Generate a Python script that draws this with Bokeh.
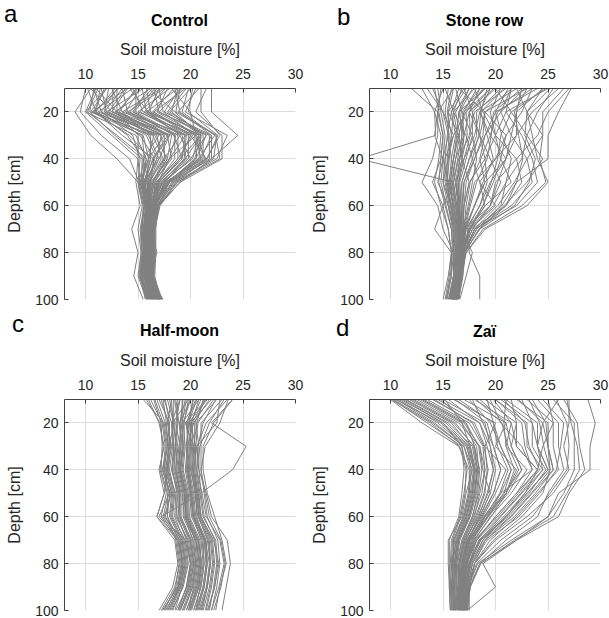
from bokeh.plotting import figure
from bokeh.layouts import column, row
from bokeh.models import Range1d, FixedTicker, Div
from bokeh.embed import file_html
from bokeh.resources import INLINE

depths = [10, 20, 30, 40, 50, 60, 70, 80, 90, 100]
x_ticks = [10, 15, 20, 25, 30]
y_ticks = [20, 40, 60, 80, 100]
titles = ["Control", "Stone row", "Half-moon", "Zaï"]
letters = ["a", "b", "c", "d"]

control = [
    [10.5, 9.0, 10.5, 13.0, 15.0, 15.4, 15.0, 15.3, 15.0, 15.8],
    [11.0, 10.0, 12.5, 15.0, 15.2, 15.8, 15.5, 15.6, 15.4, 16.0],
    [10.2, 11.0, 14.0, 15.5, 15.5, 16.0, 15.6, 15.8, 15.8, 16.3],
    [12.0, 10.5, 15.5, 16.0, 15.2, 15.8, 15.8, 15.9, 15.5, 16.5],
    [11.5, 12.0, 16.5, 16.0, 15.8, 16.2, 15.7, 15.6, 15.9, 16.2],
    [13.0, 11.5, 17.0, 15.5, 16.0, 16.0, 16.0, 16.1, 16.0, 16.8],
    [14.0, 12.5, 18.0, 16.5, 16.2, 16.1, 15.8, 15.9, 15.6, 16.4],
    [12.5, 13.5, 16.0, 17.0, 15.6, 15.6, 15.2, 15.4, 15.2, 16.0],
    [15.0, 13.0, 19.0, 17.5, 16.4, 16.0, 15.9, 16.0, 15.8, 16.6],
    [16.0, 14.5, 18.5, 18.5, 16.8, 16.3, 16.1, 16.2, 16.0, 17.0],
    [14.5, 15.5, 20.0, 19.0, 17.0, 16.2, 16.0, 16.0, 16.1, 16.8],
    [17.0, 16.0, 21.0, 19.5, 17.2, 16.4, 16.2, 16.3, 16.2, 17.2],
    [18.0, 15.0, 20.5, 18.0, 16.6, 16.0, 15.9, 15.8, 15.6, 16.5],
    [16.5, 17.0, 21.5, 20.5, 17.8, 16.6, 16.3, 16.4, 16.3, 17.3],
    [19.0, 17.5, 22.0, 21.0, 18.2, 16.8, 16.4, 16.5, 16.3, 17.0],
    [20.0, 18.0, 21.5, 20.0, 17.5, 16.5, 16.2, 16.1, 16.0, 16.7],
    [18.5, 19.0, 22.0, 22.0, 19.0, 17.0, 16.5, 16.4, 16.2, 16.9],
    [20.5, 19.5, 23.5, 22.5, 18.5, 16.8, 16.2, 16.2, 16.1, 16.6],
    [22.0, 22.0, 24.5, 22.0, 18.0, 16.6, 16.3, 16.3, 16.1, 16.8],
    [21.5, 20.5, 23.0, 23.0, 19.0, 17.0, 16.4, 16.5, 16.2, 17.0],
    [17.5, 14.0, 18.0, 17.0, 16.0, 15.8, 15.6, 15.5, 15.3, 16.0],
    [15.5, 12.0, 17.5, 16.0, 15.4, 15.6, 15.3, 15.3, 15.1, 15.9],
    [13.5, 14.0, 19.5, 18.0, 16.2, 16.0, 15.8, 15.8, 15.6, 16.3],
    [11.0, 13.0, 15.0, 15.0, 14.8, 15.2, 14.4, 15.0, 14.6, 15.5],
    [19.5, 16.5, 20.0, 21.5, 17.8, 16.4, 16.2, 16.8, 16.2, 17.2],
    [12.8, 11.0, 13.5, 16.5, 15.5, 15.7, 15.6, 15.5, 15.3, 16.1],
    [16.0, 18.5, 21.0, 19.0, 17.0, 16.3, 16.0, 16.0, 15.9, 16.6],
    [10.5, 12.5, 17.5, 17.5, 16.0, 15.9, 15.6, 15.7, 15.4, 16.2],
    [14.2, 16.0, 19.0, 20.0, 17.4, 16.3, 16.1, 16.2, 16.1, 16.9],
    [18.2, 20.0, 20.5, 21.0, 17.6, 16.5, 16.1, 16.0, 15.9, 17.4],
    [11.2, 10.2, 13.0, 15.8, 15.3, 15.9, 15.7, 15.7, 15.6, 16.1],
    [12.2, 11.8, 15.8, 16.8, 15.7, 16.0, 15.8, 15.9, 15.7, 16.4],
    [13.8, 12.2, 16.8, 17.2, 16.1, 16.1, 15.9, 16.0, 15.8, 16.5],
    [15.2, 13.8, 17.8, 18.2, 16.5, 16.2, 16.0, 16.1, 15.9, 16.7],
    [16.8, 15.2, 19.5, 19.2, 16.9, 16.3, 16.1, 16.2, 16.0, 16.9],
    [17.8, 16.8, 20.8, 20.2, 17.3, 16.5, 16.2, 16.3, 16.1, 17.1],
    [18.8, 18.2, 21.2, 21.2, 17.6, 16.6, 16.3, 16.3, 16.2, 17.0],
    [19.8, 19.2, 22.3, 20.8, 18.0, 16.7, 16.3, 16.4, 16.2, 17.2],
    [10.8, 11.5, 14.5, 15.2, 15.0, 15.5, 15.4, 15.5, 15.3, 15.9],
    [13.2, 10.8, 16.2, 16.2, 15.6, 15.8, 15.6, 15.7, 15.5, 16.2],
    [14.8, 14.8, 18.8, 18.8, 16.7, 16.2, 16.0, 16.1, 16.0, 16.8],
    [17.2, 13.5, 19.8, 19.8, 17.1, 16.4, 16.1, 16.2, 16.0, 16.6],
    [16.2, 12.8, 18.2, 17.8, 16.3, 16.0, 15.8, 15.9, 15.7, 16.4],
    [19.2, 17.0, 21.8, 21.8, 18.4, 16.9, 16.4, 16.5, 16.3, 17.1],
    [20.8, 18.8, 22.5, 22.2, 18.8, 16.9, 16.3, 16.4, 16.2, 16.9],
    [12.0, 10.0, 14.8, 15.8, 15.4, 15.9, 15.5, 15.6, 15.4, 16.0],
    [15.8, 16.2, 20.2, 18.8, 16.8, 16.3, 16.0, 16.1, 15.9, 16.6],
    [18.8, 15.8, 21.0, 20.8, 17.7, 16.5, 16.2, 16.3, 16.1, 17.0],
    [14.5, 11.2, 17.2, 16.8, 15.9, 15.9, 15.7, 15.8, 15.6, 16.3],
    [21.0, 21.0, 22.8, 21.5, 18.3, 16.8, 16.4, 16.4, 16.2, 17.1],
    [10.0, 9.5, 11.5, 14.2, 15.1, 15.6, 15.3, 15.4, 15.2, 15.7],
    [11.8, 10.8, 14.2, 16.2, 15.6, 16.0, 15.9, 15.9, 15.8, 16.4],
    [13.5, 11.8, 15.2, 16.6, 15.9, 16.3, 16.2, 16.3, 16.1, 16.8],
    [14.8, 13.2, 17.2, 17.6, 16.6, 16.5, 16.4, 16.5, 16.3, 17.0],
    [16.4, 14.2, 18.6, 18.0, 16.9, 16.6, 16.5, 16.6, 16.4, 17.2],
    [17.6, 15.6, 19.2, 19.6, 17.5, 16.7, 16.6, 16.6, 16.5, 17.3],
    [18.4, 16.4, 20.6, 21.4, 18.0, 16.9, 16.7, 16.7, 16.6, 17.1],
    [19.6, 17.8, 21.0, 20.4, 17.9, 16.6, 16.5, 16.5, 16.4, 16.9],
    [20.2, 19.8, 22.6, 21.6, 18.6, 17.0, 16.6, 16.6, 16.5, 17.2],
    [12.6, 12.6, 16.6, 17.8, 16.4, 16.2, 16.0, 16.0, 15.9, 16.5],
    [15.4, 15.8, 19.6, 19.4, 17.3, 16.4, 16.3, 16.3, 16.2, 16.8],
    [17.0, 17.4, 20.4, 20.6, 17.8, 16.7, 16.5, 16.6, 16.4, 17.0],
    [11.4, 11.0, 15.4, 15.6, 15.1, 15.6, 15.4, 15.5, 15.2, 15.8],
    [13.0, 13.0, 17.8, 16.4, 15.7, 15.9, 15.7, 15.8, 15.6, 16.2],
    [16.6, 14.6, 18.4, 19.2, 17.0, 16.5, 16.3, 16.4, 16.2, 16.9],
    [14.0, 10.6, 16.4, 17.4, 16.1, 16.1, 15.9, 16.0, 15.8, 16.4],
    [19.0, 18.6, 22.4, 22.8, 18.7, 17.1, 16.6, 16.6, 16.4, 17.0],
    [10.8, 10.4, 12.8, 15.4, 15.3, 15.7, 15.5, 15.6, 15.4, 15.9],
]

stone_row = [
    [12.0, 14.5, 14.5, 14.0, 13.0, 14.5, 15.0, 16.0, 16.0, 15.5],
    [15.0, 14.2, 14.3, 7.0, 16.0, 15.0, 15.5, 15.8, 15.8, 15.4],
    [16.0, 14.5, 15.0, 14.8, 14.0, 15.0, 14.2, 15.8, 15.5, 15.0],
    [17.0, 15.5, 15.5, 15.0, 14.5, 15.5, 16.0, 16.2, 16.0, 15.8],
    [18.0, 16.0, 15.8, 15.5, 15.0, 15.8, 16.2, 16.3, 16.2, 15.9],
    [14.0, 15.0, 16.0, 15.2, 15.2, 15.6, 16.0, 16.0, 16.0, 15.6],
    [19.0, 17.0, 16.5, 16.0, 15.5, 16.0, 16.3, 16.5, 16.4, 16.0],
    [20.0, 17.5, 17.0, 16.2, 15.8, 16.2, 16.5, 16.6, 16.5, 16.2],
    [21.0, 18.0, 17.5, 16.5, 16.0, 16.3, 16.4, 16.4, 16.3, 15.8],
    [22.0, 18.5, 18.0, 17.0, 16.2, 16.5, 16.6, 16.8, 16.6, 16.1],
    [17.5, 16.5, 17.0, 16.8, 16.5, 16.4, 16.5, 16.5, 16.4, 15.9],
    [23.0, 19.0, 18.5, 17.5, 16.8, 16.6, 16.7, 16.7, 16.5, 16.3],
    [24.0, 20.0, 19.0, 18.0, 17.0, 16.8, 16.8, 16.9, 16.7, 16.4],
    [25.0, 21.0, 20.0, 19.0, 17.5, 17.0, 16.9, 17.0, 16.8, 16.5],
    [16.5, 19.0, 21.0, 20.0, 18.0, 17.5, 17.0, 16.8, 16.6, 16.0],
    [22.5, 22.0, 22.0, 21.0, 19.0, 18.0, 17.2, 16.9, 16.6, 16.2],
    [27.0, 25.0, 24.0, 22.0, 20.0, 19.5, 17.5, 16.8, 16.6, 16.3],
    [27.2, 26.0, 25.0, 25.0, 22.0, 21.0, 18.5, 17.0, 16.8, 16.5],
    [24.5, 23.0, 23.5, 24.0, 25.0, 23.0, 19.0, 17.2, 16.7, 16.3],
    [21.5, 21.0, 22.5, 23.5, 24.0, 22.0, 18.0, 17.0, 16.5, 16.0],
    [25.5, 24.0, 23.0, 22.5, 21.0, 20.5, 18.2, 16.9, 16.6, 16.2],
    [20.5, 19.5, 20.0, 22.0, 22.5, 21.0, 17.8, 16.8, 16.5, 16.0],
    [23.5, 22.5, 21.0, 20.5, 21.5, 19.0, 17.5, 16.7, 16.5, 16.1],
    [19.5, 18.5, 19.5, 21.0, 19.5, 18.5, 17.3, 17.5, 18.5, 18.5],
    [18.5, 17.5, 18.5, 19.5, 20.5, 19.5, 17.0, 16.7, 16.4, 15.9],
    [26.0, 23.5, 22.0, 20.0, 18.5, 20.0, 17.6, 16.8, 16.5, 16.1],
    [21.5, 20.5, 19.0, 18.5, 19.0, 18.0, 17.0, 16.6, 16.4, 16.0],
    [13.5, 15.0, 15.5, 15.8, 16.2, 16.5, 16.7, 17.8, 17.2, 16.6],
    [19.5, 17.2, 16.0, 15.5, 15.4, 15.8, 16.0, 16.2, 16.1, 15.7],
    [22.8, 20.5, 21.5, 23.0, 23.5, 21.5, 18.0, 17.0, 16.7, 16.2],
    [14.5, 14.8, 15.2, 15.0, 14.8, 15.3, 15.8, 16.0, 15.8, 15.3],
    [15.5, 15.2, 15.6, 15.4, 15.3, 15.7, 16.1, 16.2, 16.0, 15.6],
    [16.5, 15.8, 16.2, 15.8, 15.6, 16.0, 16.3, 16.4, 16.2, 15.8],
    [17.5, 16.2, 16.6, 16.2, 15.9, 16.2, 16.5, 16.6, 16.4, 16.0],
    [18.5, 16.8, 17.0, 16.6, 16.2, 16.4, 16.6, 16.7, 16.5, 16.1],
    [19.5, 17.5, 17.6, 17.0, 16.5, 16.6, 16.7, 16.8, 16.6, 16.2],
    [20.5, 18.2, 18.2, 17.5, 16.8, 16.8, 16.8, 16.9, 16.7, 16.3],
    [21.5, 19.0, 18.8, 18.0, 17.2, 17.0, 16.9, 17.0, 16.8, 16.4],
    [23.5, 20.2, 19.5, 18.6, 17.6, 17.2, 17.0, 17.1, 16.9, 16.5],
    [13.0, 14.2, 14.8, 14.6, 14.2, 14.8, 15.5, 15.8, 15.6, 15.2],
    [17.0, 17.8, 18.5, 19.0, 19.2, 18.5, 17.2, 16.8, 16.5, 16.0],
    [24.5, 22.0, 21.5, 21.0, 20.2, 19.5, 17.8, 16.9, 16.6, 16.2],
    [20.0, 21.5, 23.0, 24.5, 23.0, 20.8, 18.4, 17.1, 16.7, 16.3],
    [26.5, 24.5, 24.5, 24.2, 24.8, 22.5, 18.8, 17.2, 16.8, 16.4],
    [16.0, 15.5, 16.5, 16.8, 17.5, 17.0, 16.6, 16.5, 16.3, 15.9],
    [18.0, 18.8, 20.0, 20.5, 19.8, 18.8, 17.4, 16.9, 16.6, 16.1],
    [22.0, 23.0, 24.5, 23.0, 21.8, 20.2, 18.0, 17.0, 16.6, 16.2],
    [15.2, 16.0, 17.2, 17.8, 18.5, 19.0, 17.5, 16.8, 16.4, 15.9],
    [19.0, 16.5, 16.3, 16.0, 15.7, 15.9, 16.2, 16.3, 16.2, 15.8],
    [14.8, 14.5, 14.2, 15.0, 15.5, 16.0, 16.4, 16.5, 16.3, 15.6],
    [15.8, 15.4, 15.8, 15.6, 15.4, 15.8, 16.2, 16.3, 16.1, 15.7],
    [16.8, 16.0, 16.4, 16.0, 15.7, 16.1, 16.4, 16.5, 16.3, 15.9],
    [17.8, 16.6, 16.8, 16.4, 16.0, 16.3, 16.6, 16.6, 16.4, 16.0],
    [18.8, 17.2, 17.3, 16.8, 16.3, 16.5, 16.7, 16.8, 16.6, 16.2],
    [19.8, 17.8, 17.8, 17.2, 16.6, 16.7, 16.8, 16.8, 16.6, 16.3],
    [20.8, 18.6, 18.4, 17.8, 17.0, 16.9, 16.9, 16.9, 16.7, 16.3],
    [14.2, 14.6, 15.0, 14.8, 14.6, 15.2, 15.8, 15.9, 15.7, 15.3],
    [22.5, 19.8, 19.6, 19.2, 18.2, 17.6, 17.1, 16.9, 16.7, 16.3],
    [24.8, 21.5, 20.5, 20.2, 19.6, 18.8, 17.6, 16.9, 16.6, 16.2],
    [16.2, 16.8, 17.8, 18.2, 17.8, 17.4, 16.9, 16.7, 16.4, 15.9],
    [18.2, 17.0, 16.8, 16.6, 16.4, 16.5, 16.6, 16.6, 16.4, 16.0],
    [21.2, 20.0, 20.6, 21.5, 21.0, 19.8, 17.6, 16.8, 16.5, 16.1],
    [25.2, 23.0, 22.8, 23.8, 23.2, 21.8, 18.5, 17.0, 16.6, 16.2],
    [23.0, 21.8, 22.2, 22.6, 22.0, 20.6, 18.2, 17.0, 16.6, 16.2],
    [17.2, 15.8, 15.4, 15.2, 15.0, 15.5, 15.9, 16.1, 16.0, 15.6],
    [19.2, 18.6, 19.2, 19.8, 18.8, 18.0, 17.1, 16.7, 16.5, 16.0],
]

half_moon = [
    [16.0, 17.0, 17.5, 17.0, 17.5, 16.8, 18.5, 18.8, 18.3, 17.0],
    [15.5, 17.5, 17.8, 17.5, 18.0, 17.0, 19.0, 19.2, 18.8, 17.3],
    [17.0, 18.0, 18.0, 17.6, 18.2, 17.5, 19.2, 19.5, 19.0, 17.8],
    [17.5, 18.2, 18.3, 18.0, 18.5, 18.3, 19.5, 19.8, 19.3, 18.2],
    [18.0, 18.5, 18.6, 18.2, 18.8, 18.6, 19.8, 20.1, 19.7, 18.6],
    [18.5, 18.8, 18.5, 18.5, 19.0, 19.0, 20.0, 20.3, 20.0, 19.0],
    [19.0, 18.6, 19.0, 18.8, 19.3, 19.3, 20.3, 20.5, 20.2, 19.3],
    [19.5, 19.0, 19.2, 19.0, 19.5, 19.6, 20.6, 20.8, 20.5, 19.6],
    [20.0, 19.3, 19.5, 19.3, 19.8, 19.9, 20.9, 21.0, 20.8, 20.0],
    [20.5, 19.6, 19.8, 19.6, 20.0, 20.2, 21.2, 21.3, 21.0, 20.3],
    [21.0, 20.0, 20.0, 19.9, 20.3, 20.5, 21.5, 21.6, 21.3, 20.6],
    [21.5, 19.5, 20.3, 20.2, 20.5, 20.8, 21.8, 21.9, 21.6, 21.0],
    [22.0, 20.0, 20.5, 20.5, 20.8, 21.0, 22.0, 22.2, 21.9, 21.4],
    [22.5, 20.5, 20.8, 20.8, 21.0, 21.3, 22.3, 22.5, 22.2, 21.8],
    [23.0, 21.0, 21.0, 21.0, 21.3, 21.6, 22.6, 22.8, 22.5, 22.0],
    [24.0, 22.0, 25.3, 24.0, 21.0, 17.2, 19.5, 20.0, 19.8, 19.0],
    [23.5, 21.5, 20.6, 20.8, 21.5, 22.0, 23.5, 23.8, 23.4, 23.0],
    [18.2, 17.8, 18.2, 17.8, 17.5, 16.8, 18.8, 19.3, 18.9, 17.6],
    [19.8, 18.3, 18.8, 18.6, 19.0, 18.8, 19.6, 20.0, 19.6, 18.8],
    [20.8, 19.2, 19.3, 19.0, 19.6, 19.7, 20.4, 20.6, 20.3, 19.8],
    [21.8, 20.3, 19.7, 19.8, 20.1, 20.3, 21.0, 21.2, 20.9, 20.5],
    [16.5, 17.2, 17.3, 17.2, 17.8, 17.8, 18.6, 18.9, 18.6, 17.5],
    [22.8, 22.5, 20.6, 20.3, 20.7, 21.0, 22.2, 22.7, 22.3, 21.6],
    [17.8, 18.4, 18.0, 17.8, 18.6, 18.5, 19.4, 19.7, 19.2, 18.5],
    [19.2, 19.2, 18.9, 18.7, 19.2, 19.4, 20.5, 20.9, 20.6, 19.9],
    [24.0, 22.2, 21.2, 21.2, 21.6, 22.3, 23.0, 23.4, 22.8, 22.4],
    [16.8, 17.6, 17.9, 17.7, 18.2, 18.0, 19.1, 19.4, 19.0, 18.0],
    [17.2, 17.9, 18.1, 17.9, 18.4, 18.2, 19.3, 19.6, 19.2, 18.3],
    [18.2, 18.3, 18.4, 18.3, 18.7, 18.7, 19.7, 20.0, 19.6, 18.8],
    [18.8, 18.7, 18.7, 18.6, 19.1, 19.1, 20.1, 20.4, 20.1, 19.2],
    [19.3, 19.0, 19.1, 18.9, 19.4, 19.5, 20.5, 20.7, 20.4, 19.6],
    [19.8, 19.4, 19.4, 19.2, 19.7, 19.8, 20.8, 21.0, 20.7, 19.9],
    [20.3, 19.7, 19.7, 19.5, 19.9, 20.1, 21.1, 21.3, 21.0, 20.3],
    [20.8, 20.1, 20.0, 19.8, 20.2, 20.4, 21.4, 21.6, 21.3, 20.7],
    [21.3, 20.2, 20.2, 20.1, 20.4, 20.7, 21.7, 21.9, 21.6, 21.1],
    [22.2, 20.7, 20.5, 20.4, 20.7, 21.0, 22.1, 22.3, 22.0, 21.5],
    [17.6, 18.0, 17.8, 17.3, 18.1, 17.6, 19.0, 19.3, 18.9, 17.9],
    [18.6, 18.9, 19.3, 19.0, 19.5, 19.5, 20.2, 20.5, 20.2, 19.4],
    [20.2, 19.9, 20.1, 20.0, 20.5, 20.6, 21.3, 21.5, 21.2, 20.5],
    [21.6, 19.8, 19.6, 19.7, 20.0, 20.3, 21.4, 21.8, 21.5, 20.8],
    [16.2, 17.3, 17.6, 17.4, 17.9, 17.4, 18.8, 19.1, 18.7, 17.4],
    [23.2, 21.8, 20.9, 20.6, 21.1, 21.5, 22.8, 23.2, 22.7, 22.0],
    [16.6, 17.4, 17.7, 17.5, 18.0, 17.8, 18.9, 19.2, 18.8, 17.7],
    [17.4, 17.7, 17.9, 17.8, 18.3, 18.1, 19.2, 19.5, 19.1, 18.1],
    [18.4, 18.4, 18.6, 18.4, 18.9, 18.9, 19.9, 20.2, 19.8, 18.9],
    [19.6, 19.2, 19.3, 19.1, 19.6, 19.7, 20.7, 20.9, 20.6, 19.8],
    [20.6, 19.8, 19.9, 19.7, 20.1, 20.3, 21.3, 21.5, 21.2, 20.5],
    [21.4, 20.4, 20.4, 20.3, 20.6, 20.9, 21.9, 22.1, 21.8, 21.2],
    [22.4, 21.2, 20.7, 20.6, 20.9, 21.2, 22.4, 22.6, 22.3, 21.7],
    [19.0, 18.2, 18.4, 18.2, 18.9, 19.0, 20.0, 20.3, 19.9, 19.0],
    [20.0, 19.0, 19.0, 18.9, 19.4, 19.6, 20.7, 21.1, 20.8, 20.1],
    [21.2, 20.6, 20.3, 20.2, 20.6, 20.8, 21.6, 21.9, 21.6, 20.9],
    [15.8, 17.1, 17.4, 17.1, 17.7, 17.2, 18.7, 19.0, 18.5, 17.2],
    [23.6, 22.8, 21.4, 21.0, 21.4, 21.8, 22.9, 23.3, 22.9, 22.2],
]

zai = [
    [10.0, 13.0, 16.5, 17.5, 17.5, 17.0, 16.0, 16.0, 15.8, 15.8],
    [10.3, 14.0, 17.0, 17.8, 17.2, 16.8, 15.5, 15.5, 15.6, 15.7],
    [10.8, 14.5, 17.2, 18.0, 17.8, 17.2, 16.3, 15.8, 16.0, 16.0],
    [11.5, 15.5, 17.8, 18.2, 18.0, 17.5, 16.5, 16.2, 16.1, 16.2],
    [12.0, 16.0, 18.0, 18.5, 18.3, 17.8, 16.8, 16.3, 16.3, 16.4],
    [13.0, 17.0, 18.5, 19.0, 18.5, 18.0, 17.0, 16.5, 16.5, 16.5],
    [14.0, 18.0, 19.0, 19.2, 19.0, 18.2, 17.2, 16.7, 16.6, 16.6],
    [15.0, 19.0, 19.5, 20.0, 19.5, 18.5, 17.3, 16.8, 16.7, 16.8],
    [16.0, 20.0, 19.0, 21.0, 20.0, 18.8, 17.5, 17.0, 16.8, 16.9],
    [17.0, 21.0, 20.0, 22.0, 21.0, 19.0, 17.8, 17.2, 16.9, 17.0],
    [18.0, 21.5, 21.0, 23.0, 21.5, 19.5, 18.0, 17.3, 17.0, 17.1],
    [19.0, 22.0, 22.0, 24.0, 22.0, 20.0, 18.2, 17.5, 17.2, 17.2],
    [20.0, 23.0, 23.0, 24.5, 22.5, 20.5, 18.5, 17.6, 17.3, 17.3],
    [21.0, 24.0, 24.0, 25.0, 23.0, 21.0, 18.8, 17.8, 17.4, 17.4],
    [22.0, 25.0, 25.0, 25.5, 23.5, 21.5, 19.0, 18.0, 17.5, 17.5],
    [23.0, 25.5, 25.5, 26.0, 24.0, 22.0, 19.5, 18.0, 17.5, 17.2],
    [24.0, 26.0, 26.0, 26.5, 25.0, 24.0, 21.0, 18.5, 17.6, 17.3],
    [25.5, 27.5, 27.5, 27.5, 26.5, 25.0, 22.0, 18.5, 17.5, 17.2],
    [26.5, 27.8, 28.0, 28.5, 27.0, 26.0, 22.0, 18.8, 20.0, 17.3],
    [28.8, 29.5, 29.0, 29.0, 26.0, 25.0, 21.5, 18.3, 17.4, 17.0],
    [12.5, 16.5, 18.5, 18.8, 19.5, 18.5, 17.4, 16.8, 16.4, 16.2],
    [19.5, 20.5, 22.5, 23.5, 20.5, 19.2, 17.6, 17.0, 16.8, 16.6],
    [21.5, 22.0, 21.5, 22.5, 20.8, 19.0, 17.5, 17.0, 16.8, 16.7],
    [25.0, 25.5, 24.5, 24.0, 22.8, 21.0, 18.5, 17.4, 17.0, 16.9],
    [11.0, 15.0, 16.8, 17.0, 16.8, 16.5, 15.6, 15.6, 15.7, 15.9],
    [17.5, 19.5, 20.5, 21.5, 20.8, 19.3, 17.7, 17.1, 16.9, 16.8],
    [14.5, 18.5, 19.2, 19.8, 19.2, 18.4, 17.1, 16.6, 16.5, 16.6],
    [27.0, 27.0, 26.5, 27.0, 25.5, 23.0, 20.0, 18.0, 17.5, 17.3],
    [26.0, 24.5, 25.0, 25.2, 24.5, 22.5, 19.8, 18.0, 17.3, 17.0],
    [20.5, 23.5, 23.5, 24.8, 23.2, 21.2, 18.6, 17.5, 17.1, 17.0],
    [10.2, 13.5, 16.8, 17.3, 17.0, 16.6, 15.8, 15.7, 15.6, 15.7],
    [10.6, 14.2, 17.0, 17.6, 17.4, 16.9, 16.0, 15.9, 15.8, 15.9],
    [11.2, 15.0, 17.4, 17.9, 17.6, 17.1, 16.2, 16.0, 15.9, 16.0],
    [11.8, 15.8, 17.6, 18.1, 17.9, 17.4, 16.4, 16.1, 16.0, 16.1],
    [12.8, 16.8, 18.2, 18.4, 18.2, 17.6, 16.6, 16.3, 16.2, 16.3],
    [13.5, 17.5, 18.8, 19.0, 18.7, 17.9, 16.9, 16.5, 16.4, 16.4],
    [15.5, 18.5, 19.5, 19.8, 19.3, 18.3, 17.1, 16.6, 16.5, 16.5],
    [16.5, 19.8, 20.5, 21.5, 20.5, 18.9, 17.4, 16.9, 16.7, 16.7],
    [18.5, 21.0, 21.5, 22.5, 21.2, 19.3, 17.8, 17.1, 16.8, 16.8],
    [20.0, 22.5, 22.8, 23.5, 22.0, 20.0, 18.1, 17.3, 17.0, 16.9],
    [22.5, 23.5, 24.0, 24.5, 22.8, 20.8, 18.4, 17.5, 17.1, 17.0],
    [23.5, 24.8, 25.0, 25.5, 23.8, 21.8, 19.0, 17.7, 17.2, 17.1],
    [24.5, 26.5, 26.2, 25.8, 24.2, 22.2, 19.2, 17.8, 17.3, 17.1],
    [21.0, 20.8, 21.0, 21.8, 21.0, 19.6, 17.9, 17.2, 16.9, 16.8],
    [17.8, 18.8, 19.8, 20.5, 19.8, 18.7, 17.3, 16.8, 16.6, 16.6],
    [26.8, 27.2, 27.8, 28.0, 26.8, 25.5, 21.8, 18.6, 17.6, 17.2],
    [19.8, 21.5, 22.0, 24.0, 22.2, 20.2, 18.0, 17.2, 16.9, 16.8],
    [14.8, 17.2, 18.0, 18.3, 18.0, 17.5, 16.5, 16.2, 16.1, 16.2],
    [10.1, 13.8, 16.6, 17.2, 17.1, 16.7, 15.9, 15.8, 15.7, 15.8],
    [10.5, 14.8, 17.3, 17.7, 17.5, 17.0, 16.1, 15.9, 15.9, 16.0],
    [11.4, 15.3, 17.5, 18.0, 17.7, 17.2, 16.3, 16.1, 16.0, 16.1],
    [12.2, 16.2, 17.9, 18.3, 18.1, 17.5, 16.5, 16.2, 16.1, 16.2],
    [13.2, 17.2, 18.4, 18.7, 18.4, 17.8, 16.8, 16.4, 16.3, 16.4],
    [14.2, 17.8, 18.9, 19.3, 18.9, 18.1, 17.0, 16.6, 16.5, 16.5],
    [16.2, 19.2, 19.8, 20.5, 19.8, 18.6, 17.3, 16.8, 16.6, 16.6],
    [18.2, 20.6, 21.2, 22.2, 21.0, 19.2, 17.6, 17.0, 16.8, 16.7],
    [20.8, 22.8, 23.2, 24.2, 22.4, 20.4, 18.2, 17.3, 17.0, 16.9],
    [23.2, 24.2, 24.6, 25.2, 23.4, 21.4, 18.8, 17.6, 17.2, 17.0],
    [25.8, 26.8, 27.0, 26.8, 25.2, 23.5, 20.5, 18.2, 17.4, 17.1],
    [19.2, 19.8, 20.2, 21.2, 20.4, 19.0, 17.5, 16.9, 16.7, 16.6],
    [15.2, 16.8, 17.6, 18.0, 17.8, 17.3, 16.4, 16.1, 16.0, 16.1],
    [22.2, 24.5, 24.0, 25.0, 23.0, 21.0, 18.6, 17.5, 17.1, 17.0],
]

FONT = "Liberation Sans"
TXT = "#262626"
FRAME_W, FRAME_H = 231, 211


def make_header(letter, title, width, frame_left, letter_left, letter_top, title_top):
    html = (
        f'<div style="position:relative;width:{width}px;height:30px;'
        f'font-family:\'{FONT}\', Arial, sans-serif;color:#000;">'
        f'<div style="position:absolute;left:{letter_left}px;top:{letter_top}px;'
        f'font-size:24px;line-height:24px;">{letter}</div>'
        f'<div style="position:absolute;left:{frame_left}px;top:{title_top}px;width:{FRAME_W}px;'
        f'text-align:center;font-size:16px;line-height:16px;font-weight:bold;">{title}</div>'
        f'</div>'
    )
    return Div(text=html, width=width, height=30, margin=0)


def make_panel(profiles, width, height, left, top):
    p = figure(width=width, height=height, x_range=Range1d(8, 30), y_range=Range1d(100, 10),
               x_axis_location="above", output_backend="svg", toolbar_location=None,
               min_border_left=left, min_border_right=width - left - FRAME_W,
               min_border_top=top, min_border_bottom=height - top - FRAME_H)
    p.title.visible = False
    p.outline_line_color = None
    p.background_fill_color = "white"
    p.border_fill_color = "white"

    xs = [list(pr) for pr in profiles]
    ys = [depths for _ in profiles]
    p.multi_line(xs, ys, line_color="#808080", line_width=1.0)

    xa = p.xaxis[0]
    ya = p.yaxis[0]
    xa.ticker = FixedTicker(ticks=x_ticks)
    ya.ticker = FixedTicker(ticks=y_ticks)
    for ax in (xa, ya):
        ax.axis_line_color = "#404040"
        ax.axis_line_width = 1
        ax.major_tick_in = 4
        ax.major_tick_out = 0
        ax.major_tick_line_color = "#404040"
        ax.minor_tick_line_color = None
        ax.major_label_text_font = FONT
        ax.major_label_text_font_size = "14px"
        ax.major_label_text_color = TXT
        ax.axis_label_text_font = FONT
        ax.axis_label_text_font_size = "16px"
        ax.axis_label_text_font_style = "normal"
        ax.axis_label_text_color = TXT
    xa.axis_label = "Soil moisture [%]"
    ya.axis_label = "Depth [cm]"
    xa.major_label_standoff = 10
    xa.axis_label_standoff = 8
    ya.major_label_standoff = 6
    ya.axis_label_standoff = 9

    p.xgrid.ticker = FixedTicker(ticks=x_ticks)
    p.ygrid.ticker = FixedTicker(ticks=y_ticks)
    p.grid.grid_line_color = "#dcdcdc"
    p.grid.grid_line_width = 1
    return p


pa = make_panel(control, 304, 280, 64, 58)
pb = make_panel(stone_row, 305, 280, 65, 58)
pc = make_panel(half_moon, 304, 278, 64, 59)
pd = make_panel(zai, 305, 278, 65, 59)

ha = make_header(letters[0], titles[0], 304, 64, 4, 2, 13)
hb = make_header(letters[1], titles[1], 305, 65, 33, 5, 13)
hc = make_header(letters[2], titles[2], 304, 64, 12, 2, 13)
hd = make_header(letters[3], titles[3], 305, 65, 32, 6, 14)

layout = column(
    row(column(ha, pa), column(hb, pb)),
    row(column(hc, pc), column(hd, pd)),
)

open("out.html", "w").write(file_html(layout, INLINE))
